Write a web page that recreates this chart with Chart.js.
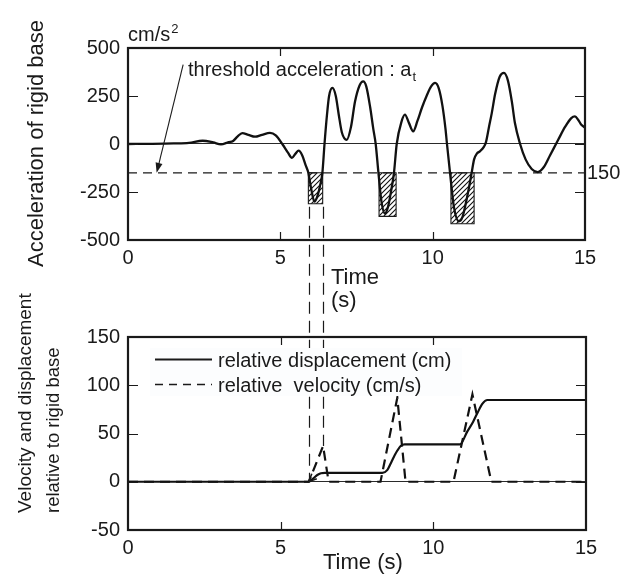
<!DOCTYPE html>
<html><head><meta charset="utf-8">
<script src="https://cdn.jsdelivr.net/npm/chart.js@4.4.1/dist/chart.umd.min.js"></script>
<style>
html,body{margin:0;padding:0;background:#fff;}
#wrap{position:relative;width:632px;height:578px;background:#fff;}
canvas{position:absolute;left:0;top:0;}
</style></head><body>
<div id="wrap"><canvas id="cTop" width="632" height="578"></canvas><canvas id="cBot" width="632" height="578"></canvas></div>
<script>
// ---------------- data ----------------
const xTicks = [0, 5, 10, 15];
const accTicks = [-500, -250, 0, 250, 500];
const relTicks = [-50, 0, 50, 100, 150];

const accTime = [0,0.8,1.5,2.0,2.45,2.8,3.05,3.3,3.45,3.6,3.75,3.95,4.17,4.4,4.66,4.85,5.08,5.25,5.38,5.5,
  5.6,5.72,5.83,5.92,6.02,6.12,6.22,6.3,6.38,6.45,6.53,6.6,6.71,6.82,6.92,7.02,7.18,7.32,7.45,7.6,
  7.72,7.82,7.95,8.05,8.13,8.22,8.32,8.43,8.53,8.63,8.73,8.82,8.98,9.09,9.22,9.36,9.5,9.65,9.8,9.95,
  10.08,10.2,10.32,10.42,10.47,10.57,10.7,10.86,10.98,11.1,11.2,11.28,11.36,11.45,11.55,11.68,11.75,11.85,11.94,12.05,
  12.2,12.34,12.47,12.6,12.7,12.87,13.05,13.25,13.45,13.65,13.85,14.12,14.35,14.55,14.67,14.78,14.88,15];
const accValue = [0,1,3,6,17,8,-2,10,16,40,57,48,38,48,58,45,-4,-45,-72,-50,
  -35,-60,-110,-150,-240,-300,-270,-220,-150,0,150,250,292,250,150,60,22,90,220,305,
  326,300,190,80,0,-150,-300,-362,-330,-250,-150,0,118,153,110,66,120,190,250,300,
  318,290,200,80,0,-150,-330,-403,-380,-300,-220,-150,-80,-50,-38,-15,10,90,161,260,
  350,370,330,220,109,0,-80,-130,-146,-120,-60,22,90,135,144,125,100,85];

const thresholdValue = -150;
const exceedStart = [5.92, 8.24, 10.60];
const exceedEnd   = [6.39, 8.80, 11.36];
const exceedMin   = [-311, -377, -415];

const dispTime  = [0,5.92,6.05,6.2,6.32,6.45,8.33,8.49,8.62,8.76,8.93,9.06,10.87,11.11,11.3,11.44,11.61,11.77,15];
const dispValue = [0,0,3,7,8.8,9.3,9.3,12,20,29,37,38.7,38.7,52,62,71,81,84.7,84.7];

const velTime  = [0,5.92,6.39,6.57,8.27,8.82,9.09,10.66,11.28,11.9,15];
const velValue = [0,0,37,0,0,87,0,0,90.5,0,0];

// ---------------- helpers ----------------
const FONT = "'Liberation Sans', Arial, Helvetica, sans-serif";
const INK = '#1a1a1a';
Chart.defaults.font.family = FONT;
Chart.defaults.color = INK;

function pts(xs, ys){ return xs.map((x,i)=>({x:x, y:ys[i]})); }
function txt(ctx, s, x, y, size, o){
  o = o || {};
  ctx.save();
  ctx.font = size + 'px ' + FONT;
  ctx.fillStyle = INK;
  ctx.textAlign = o.align || 'left';
  ctx.textBaseline = o.baseline || 'alphabetic';
  if (o.rot){ ctx.translate(x,y); ctx.rotate(o.rot); ctx.fillText(s,0,0); }
  else ctx.fillText(s,x,y);
  const w = ctx.measureText(s).width;
  ctx.restore();
  return w;
}

const framePlugin = {
  id: 'frame',
  afterDatasetsDraw(chart){
    const {ctx, chartArea:{left,right,top,bottom}, scales:{x,y}} = chart;
    ctx.save();
    ctx.strokeStyle = INK; ctx.lineWidth = 1.2; ctx.setLineDash([]);
    ctx.beginPath();
    y.ticks.forEach(t => {
      if (t.value === y.min || t.value === y.max) return;
      const py = Math.round(y.getPixelForValue(t.value)) + 0.5;
      ctx.moveTo(left, py); ctx.lineTo(left + 10, py);
      ctx.moveTo(right, py); ctx.lineTo(right - 10, py);
    });
    x.ticks.forEach(t => {
      if (t.value === x.min || t.value === x.max) return;
      const px = Math.round(x.getPixelForValue(t.value)) + 0.5;
      ctx.moveTo(px, top); ctx.lineTo(px, top + 8);
      ctx.moveTo(px, bottom); ctx.lineTo(px, bottom - 8);
    });
    ctx.stroke();
    ctx.lineWidth = 2.2;
    ctx.strokeRect(left, top, right - left, bottom - top);
    ctx.restore();
  }
};

function makeHatch(){
  const pc = document.createElement('canvas');
  pc.width = 5; pc.height = 5;
  const p = pc.getContext('2d');
  p.strokeStyle = '#111'; p.lineWidth = 1.1;
  p.beginPath();
  p.moveTo(0,5); p.lineTo(5,0);
  p.moveTo(-1,1); p.lineTo(1,-1);
  p.moveTo(4,6); p.lineTo(6,4);
  p.stroke();
  return document.createElement('canvas').getContext('2d').createPattern(pc, 'repeat');
}
const hatch = makeHatch();

function axisCommon(ticksArr, fitFn){
  return {
    type: 'linear',
    min: ticksArr[0], max: ticksArr[ticksArr.length-1],
    afterBuildTicks: s => { s.ticks = ticksArr.map(v => ({value: v})); },
    afterFit: fitFn,
    border: {display: false},
  };
}

// ---------------- top chart ----------------
const rectSets = exceedStart.map((s, i) => ({
  label: 'exceed' + i,
  data: pts([s, s, exceedEnd[i], exceedEnd[i], s], [thresholdValue, exceedMin[i], exceedMin[i], thresholdValue, thresholdValue]),
  borderColor: INK, borderWidth: 1.1, backgroundColor: hatch,
  fill: 'shape', pointRadius: 0, tension: 0
}));

const topAnno = {
  id: 'topAnno',
  afterDraw(chart){
    const {ctx, scales:{x,y}} = chart;
    txt(ctx, 'Acceleration of rigid base', 37, 267, 22, {rot: -Math.PI/2, baseline: 'middle'});
    const w = txt(ctx, 'cm/s', 128, 41, 20);
    txt(ctx, '2', 128 + w + 1, 33, 13);
    const w2 = txt(ctx, 'threshold acceleration : a', 188, 76, 20);
    txt(ctx, 't', 188 + w2 + 1, 81, 13);
    txt(ctx, '150', 587, 178.5, 20);
    txt(ctx, 'Time', 331, 283.5, 22);
    txt(ctx, '(s)', 331, 307, 22);
    // arrow to threshold line
    const x0 = x.getPixelForValue(1.81), y0 = y.getPixelForValue(413);
    const x1 = x.getPixelForValue(0.94), y1 = y.getPixelForValue(thresholdValue);
    const ang = Math.atan2(y1 - y0, x1 - x0);
    ctx.save();
    ctx.strokeStyle = INK; ctx.fillStyle = INK; ctx.lineWidth = 1.1;
    ctx.beginPath(); ctx.moveTo(x0, y0); ctx.lineTo(x1 - 8*Math.cos(ang), y1 - 8*Math.sin(ang)); ctx.stroke();
    ctx.beginPath();
    ctx.moveTo(x1, y1);
    ctx.lineTo(x1 - 10*Math.cos(ang) + 3.5*Math.sin(ang), y1 - 10*Math.sin(ang) - 3.5*Math.cos(ang));
    ctx.lineTo(x1 - 10*Math.cos(ang) - 3.5*Math.sin(ang), y1 - 10*Math.sin(ang) + 3.5*Math.cos(ang));
    ctx.closePath(); ctx.fill();
    ctx.restore();
  }
};

const topChart = new Chart(document.getElementById('cTop'), {
  type: 'line',
  data: {
    datasets: [
      { label: 'acceleration', data: pts(accTime, accValue), borderColor: '#111', borderWidth: 2.3,
        pointRadius: 0, cubicInterpolationMode: 'monotone', fill: false },
      { label: 'threshold', data: pts([0, 15], [thresholdValue, thresholdValue]), borderColor: INK,
        borderWidth: 1.3, borderDash: [9, 6], pointRadius: 0, fill: false },
      ...rectSets
    ]
  },
  options: {
    responsive: false, animation: false, devicePixelRatio: 1, events: [],
    layout: {padding: {left: 0, right: 47, top: 48, bottom: 298}},
    plugins: {legend: {display: false}, tooltip: {enabled: false}},
    scales: {
      x: Object.assign(axisCommon(xTicks, s => { s.height = 40; }), {
        grid: {display: false, drawTicks: false},
        ticks: {padding: 6, maxRotation: 0, font: {size: 20}, color: INK}
      }),
      y: Object.assign(axisCommon(accTicks, s => { s.width = 128; }), {
        grid: {drawTicks: false, lineWidth: 1.1, color: c => (c.tick && c.tick.value === 0) ? '#2a2a2a' : 'rgba(0,0,0,0)'},
        ticks: {padding: 8, font: {size: 20}, color: INK}
      })
    }
  },
  plugins: [framePlugin, topAnno]
});

// ---------------- bottom chart ----------------
const botAnno = {
  id: 'botAnno',
  afterDraw(chart){
    const {ctx, scales:{x,y}} = chart;
    txt(ctx, 'Velocity and displacement', 25.5, 513, 19, {rot: -Math.PI/2, baseline: 'middle'});
    txt(ctx, 'relative to rigid base', 54, 513, 18.5, {rot: -Math.PI/2, baseline: 'middle'});
    txt(ctx, 'Time (s)', 323, 569, 22);
    // connectors from first exceedance window to the response
    const ty = topChart.scales.y;
    ctx.save();
    ctx.strokeStyle = INK; ctx.lineWidth = 1.2; ctx.setLineDash([12, 7]);
    [exceedStart[0], exceedEnd[0]].forEach(t => {
      const px = Math.round(x.getPixelForValue(t)) + 0.5;
      const y0 = ty.getPixelForValue(exceedMin[0]) + 3;
      const idx = velTime.indexOf(t);
      const y1 = y.getPixelForValue(idx >= 0 ? velValue[idx] : 0);
      ctx.beginPath(); ctx.moveTo(px, y0); ctx.lineTo(px, y1); ctx.stroke();
    });
    ctx.setLineDash([]);
    const ax = x.getPixelForValue(exceedStart[0]), ay = y.getPixelForValue(0);
    ctx.lineWidth = 1.6;
    ctx.beginPath();
    ctx.moveTo(ax + 8, ay - 3); ctx.lineTo(ax, ay); ctx.lineTo(ax + 3, ay - 8);
    ctx.stroke();
    // legend box (opaque, hides the connectors behind the legend text)
    ctx.fillStyle = '#fcfdfe';
    ctx.fillRect(150, 348, 312, 48);
    ctx.strokeStyle = INK;
    ctx.lineWidth = 2.2;
    ctx.beginPath(); ctx.moveTo(155, 359.5); ctx.lineTo(212, 359.5); ctx.stroke();
    ctx.lineWidth = 1.4; ctx.setLineDash([8, 6]);
    ctx.beginPath(); ctx.moveTo(155, 384.5); ctx.lineTo(212, 384.5); ctx.stroke();
    ctx.restore();
    txt(ctx, 'relative displacement (cm)', 218, 366.5, 20);
    txt(ctx, 'relative  velocity (cm/s)', 218, 391.5, 20);
  }
};

const botChart = new Chart(document.getElementById('cBot'), {
  type: 'line',
  data: {
    datasets: [
      { label: 'relative displacement (cm)', data: pts(dispTime, dispValue), borderColor: '#111', borderWidth: 2.2,
        pointRadius: 0, cubicInterpolationMode: 'monotone', fill: false },
      { label: 'relative velocity (cm/s)', data: pts(velTime, velValue), borderColor: '#111', borderWidth: 2.2,
        borderDash: [10, 6], pointRadius: 0, tension: 0, fill: false }
    ]
  },
  options: {
    responsive: false, animation: false, devicePixelRatio: 1, events: [],
    layout: {padding: {left: 0, right: 46, top: 337, bottom: 8}},
    plugins: {legend: {display: false}, tooltip: {enabled: false}},
    scales: {
      x: Object.assign(axisCommon(xTicks, s => { s.height = 40; }), {
        grid: {display: false, drawTicks: false},
        ticks: {padding: 6, maxRotation: 0, font: {size: 20}, color: INK}
      }),
      y: Object.assign(axisCommon(relTicks, s => { s.width = 128; }), {
        grid: {drawTicks: false, lineWidth: 1.1, color: c => (c.tick && c.tick.value === 0) ? '#2a2a2a' : 'rgba(0,0,0,0)'},
        ticks: {padding: 8, font: {size: 20}, color: INK}
      })
    }
  },
  plugins: [framePlugin, botAnno]
});
</script>
</body></html>
